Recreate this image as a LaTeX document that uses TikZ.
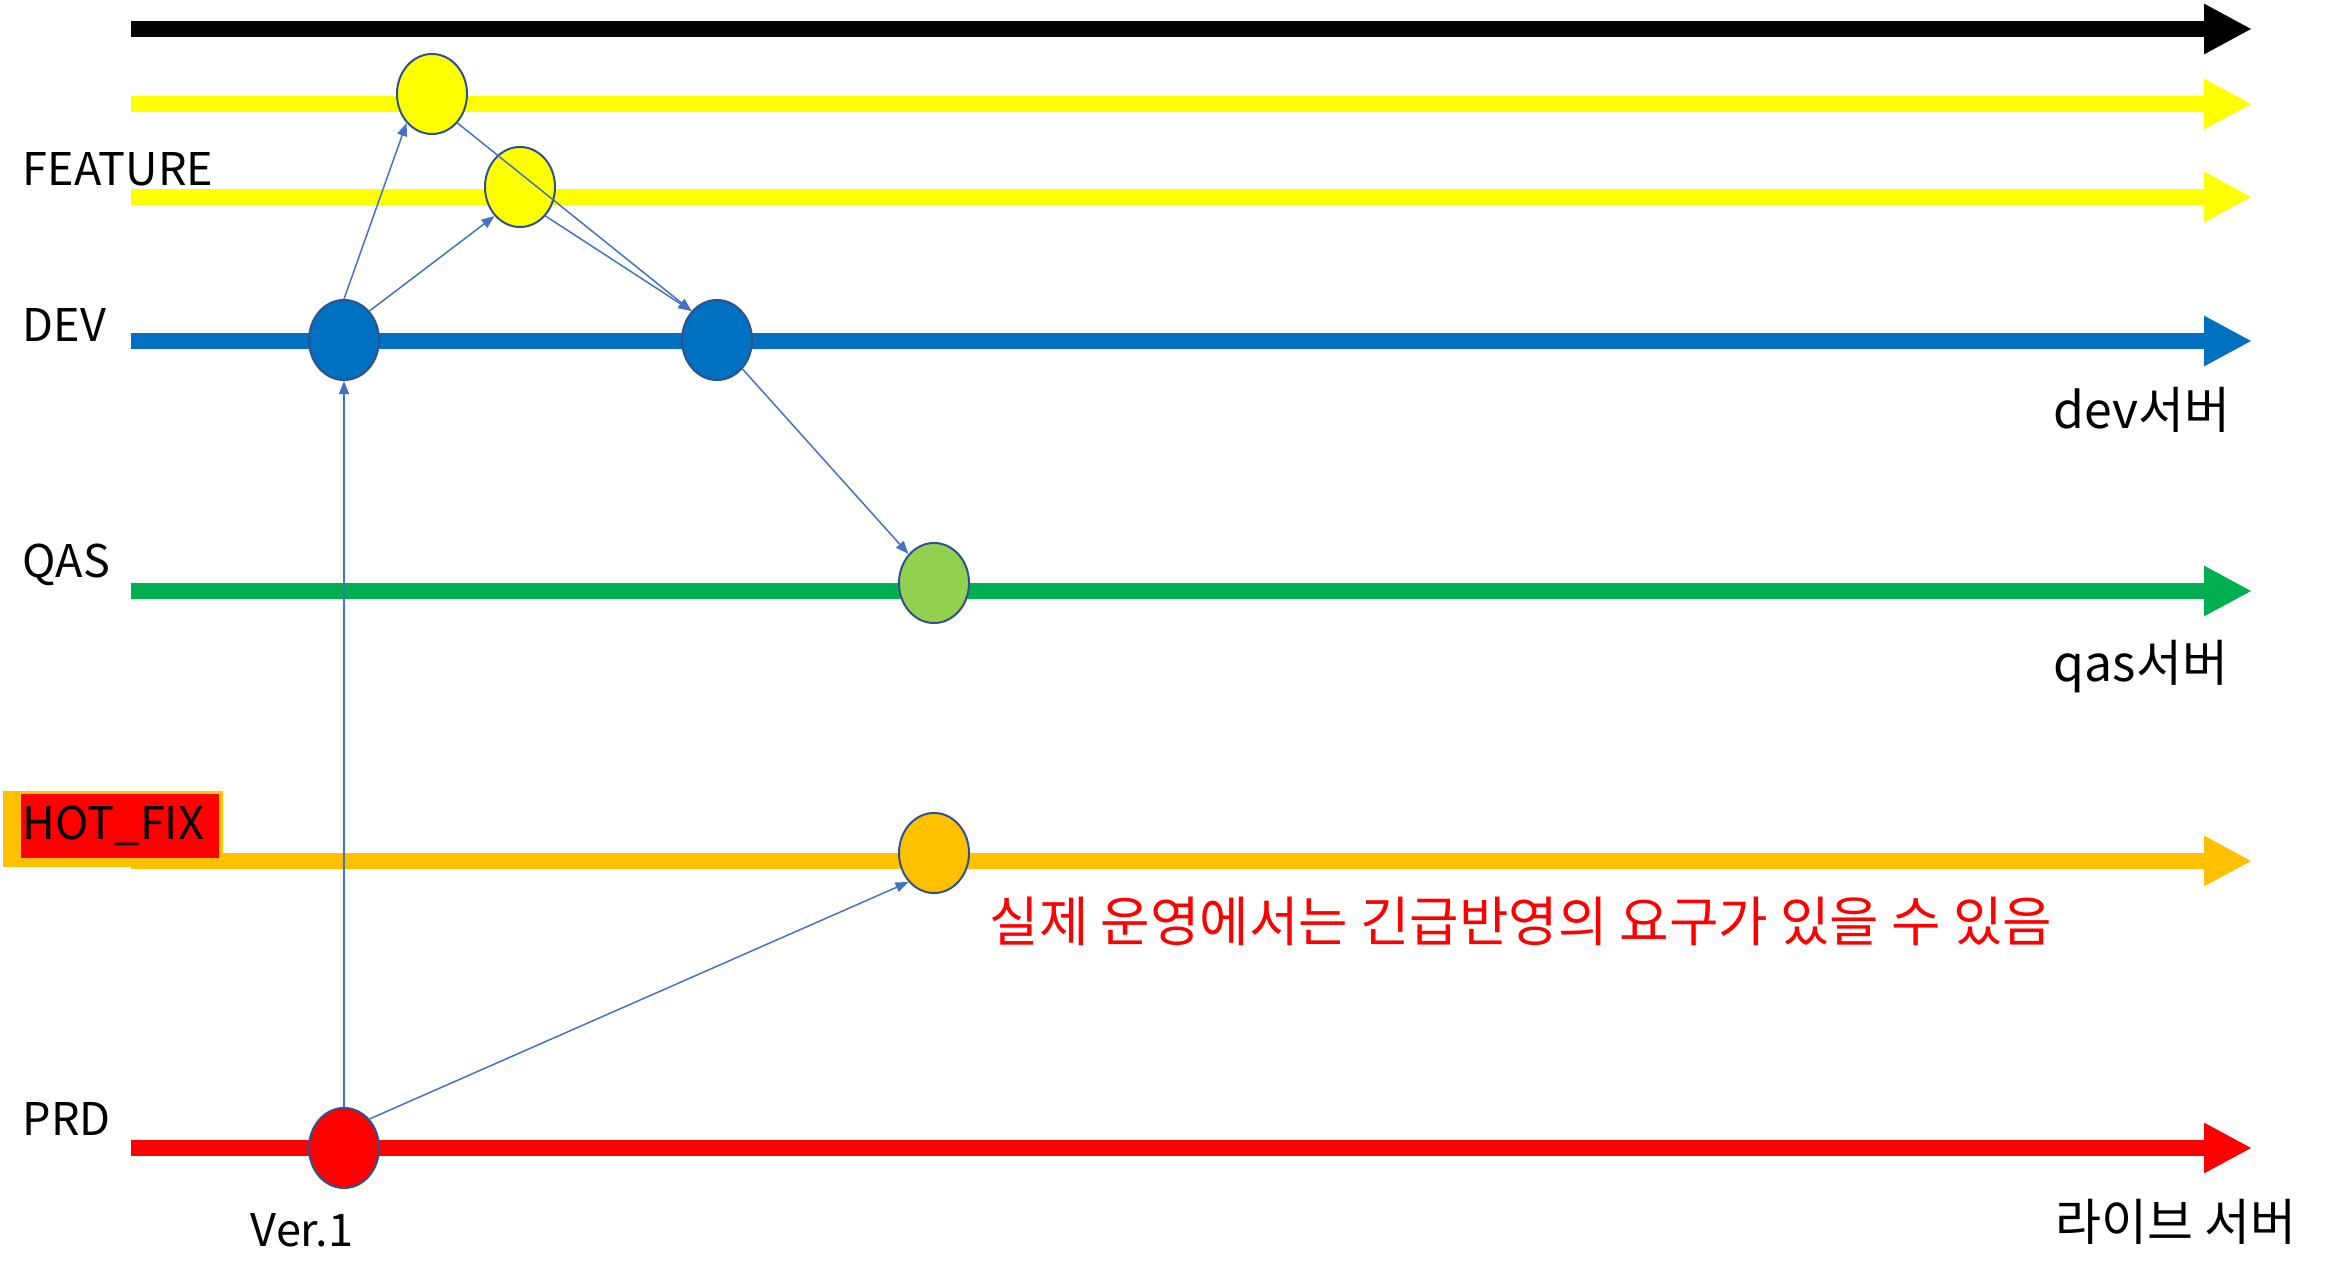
\documentclass[tikz,border=0pt]{standalone}
\usepackage{fontspec}
\setmainfont{Noto Sans CJK KR}
\usepackage{tikz}
\usetikzlibrary{positioning,arrows.meta,shapes.geometric}
\definecolor{featcolor}{RGB}{255,255,0}
\definecolor{devcolor}{RGB}{0,112,192}
\definecolor{qasline}{RGB}{0,176,80}
\definecolor{qasfill}{RGB}{146,208,80}
\definecolor{hotcolor}{RGB}{255,192,0}
\definecolor{prdcolor}{RGB}{255,0,0}
\definecolor{linkcolor}{RGB}{68,114,196}
\definecolor{rimcolor}{RGB}{47,82,143}

\begin{document}
\begin{tikzpicture}[
  x=0.01cm, y=-0.01cm,
  font=\fontsize{14.2pt}{16pt}\selectfont,
  branch/.style={line width=0.16cm, -{Triangle[length=0.48cm, width=0.47cm]}},
  commit/.style={ellipse, draw=rimcolor, line width=0.02cm, minimum width=0.70cm, minimum height=0.80cm, inner sep=0pt},
  merge/.style={draw=linkcolor, line width=0.015cm, -{Triangle[length=0.13cm, width=0.10cm]}},
  lbl/.style={anchor=west, inner sep=0pt},
  latin/.style={font=\fontsize{12.8pt}{15pt}\selectfont}
]
  \useasboundingbox (0,0) rectangle (2330,1261);

  % Branch lines
  \coordinate (mainstart) at (131,29);    \coordinate (mainend) at (2252,29);
  \coordinate (feataStart) at (131,104);  \coordinate (feataEnd) at (2252,104);
  \coordinate (featbStart) at (131,197);  \coordinate (featbEnd) at (2252,197);
  \coordinate (devstart) at (131,341);    \coordinate (devend) at (2252,341);
  \coordinate (qasstart) at (131,591);    \coordinate (qasend) at (2252,591);
  \coordinate (hotstart) at (131,861);    \coordinate (hotend) at (2252,861);
  \coordinate (prdstart) at (131,1148);   \coordinate (prdend) at (2252,1148);

  \draw[branch, black] (mainstart) -- (mainend);
  \draw[branch, featcolor] (feataStart) -- (feataEnd);
  \draw[branch, featcolor] (featbStart) -- (featbEnd);
  \draw[branch, devcolor] (devstart) -- (devend);
  \draw[branch, qasline] (qasstart) -- (qasend);
  \draw[branch, hotcolor] (hotstart) -- (hotend);
  \draw[branch, prdcolor] (prdstart) -- (prdend);

  % Branch names
  \node[lbl, latin] (featlabel) at (22,169) {FEATURE};
  \node[lbl, latin] (devlabel) at (22,325) {DEV};
  \node[lbl, latin] (qaslabel) at (22,565) {QAS};
  \node[lbl, latin] (prdlabel) at (22,1119) {PRD};
  \node[rectangle, fill=hotcolor, minimum width=2.20cm, minimum height=0.76cm, inner sep=0pt] (hotfixbg) at (113,829) {};
  \node[rectangle, fill=prdcolor, latin, text width=1.94cm, align=left, inner xsep=0.02cm, inner ysep=0pt, minimum height=0.63cm] (hotfix) at (120,826) {HOT\_FIX};

  % Server names
  \node[lbl] (devserver) at (2053,410) {dev서버};
  \node[lbl] (qasserver) at (2053,667) {qas서버};
  \node[lbl] (liveserver) at (2055,1222) {라이브 서버};
  \node[lbl, text=prdcolor, font=\fontsize{15.3pt}{18pt}\selectfont] (note) at (989,921) {실제 운영에서는 긴급반영의 요구가 있을 수 있음};

  % Commits
  \node[commit, fill=featcolor] (feat1) at (432,94) {};
  \node[commit, fill=featcolor] (feat2) at (520,187) {};
  \node[commit, fill=devcolor] (dev1) at (344,340) {};
  \node[commit, fill=devcolor] (dev2) at (717,340) {};
  \node[commit, fill=qasfill] (qas1) at (934,583) {};
  \node[commit, fill=hotcolor] (hot1) at (934,853) {};
  \node[commit, fill=prdcolor] (prd1) at (344,1148) {};
  \node[inner sep=0pt, latin] (version) at (302,1230) {Ver.1};

  % Merges
  \draw[merge] (prd1.north) -- (dev1.south);
  \draw[merge] (prd1.north east) -- (hot1.south west);
  \draw[merge] (dev1.north) -- (feat1.south west);
  \draw[merge] (dev1.north east) -- (feat2.south west);
  \draw[merge] (feat1.south east) -- (dev2.north west);
  \draw[merge] (feat2.south east) -- (dev2.north west);
  \draw[merge] (dev2.south east) -- (qas1.north west);

\end{tikzpicture}
\end{document}
